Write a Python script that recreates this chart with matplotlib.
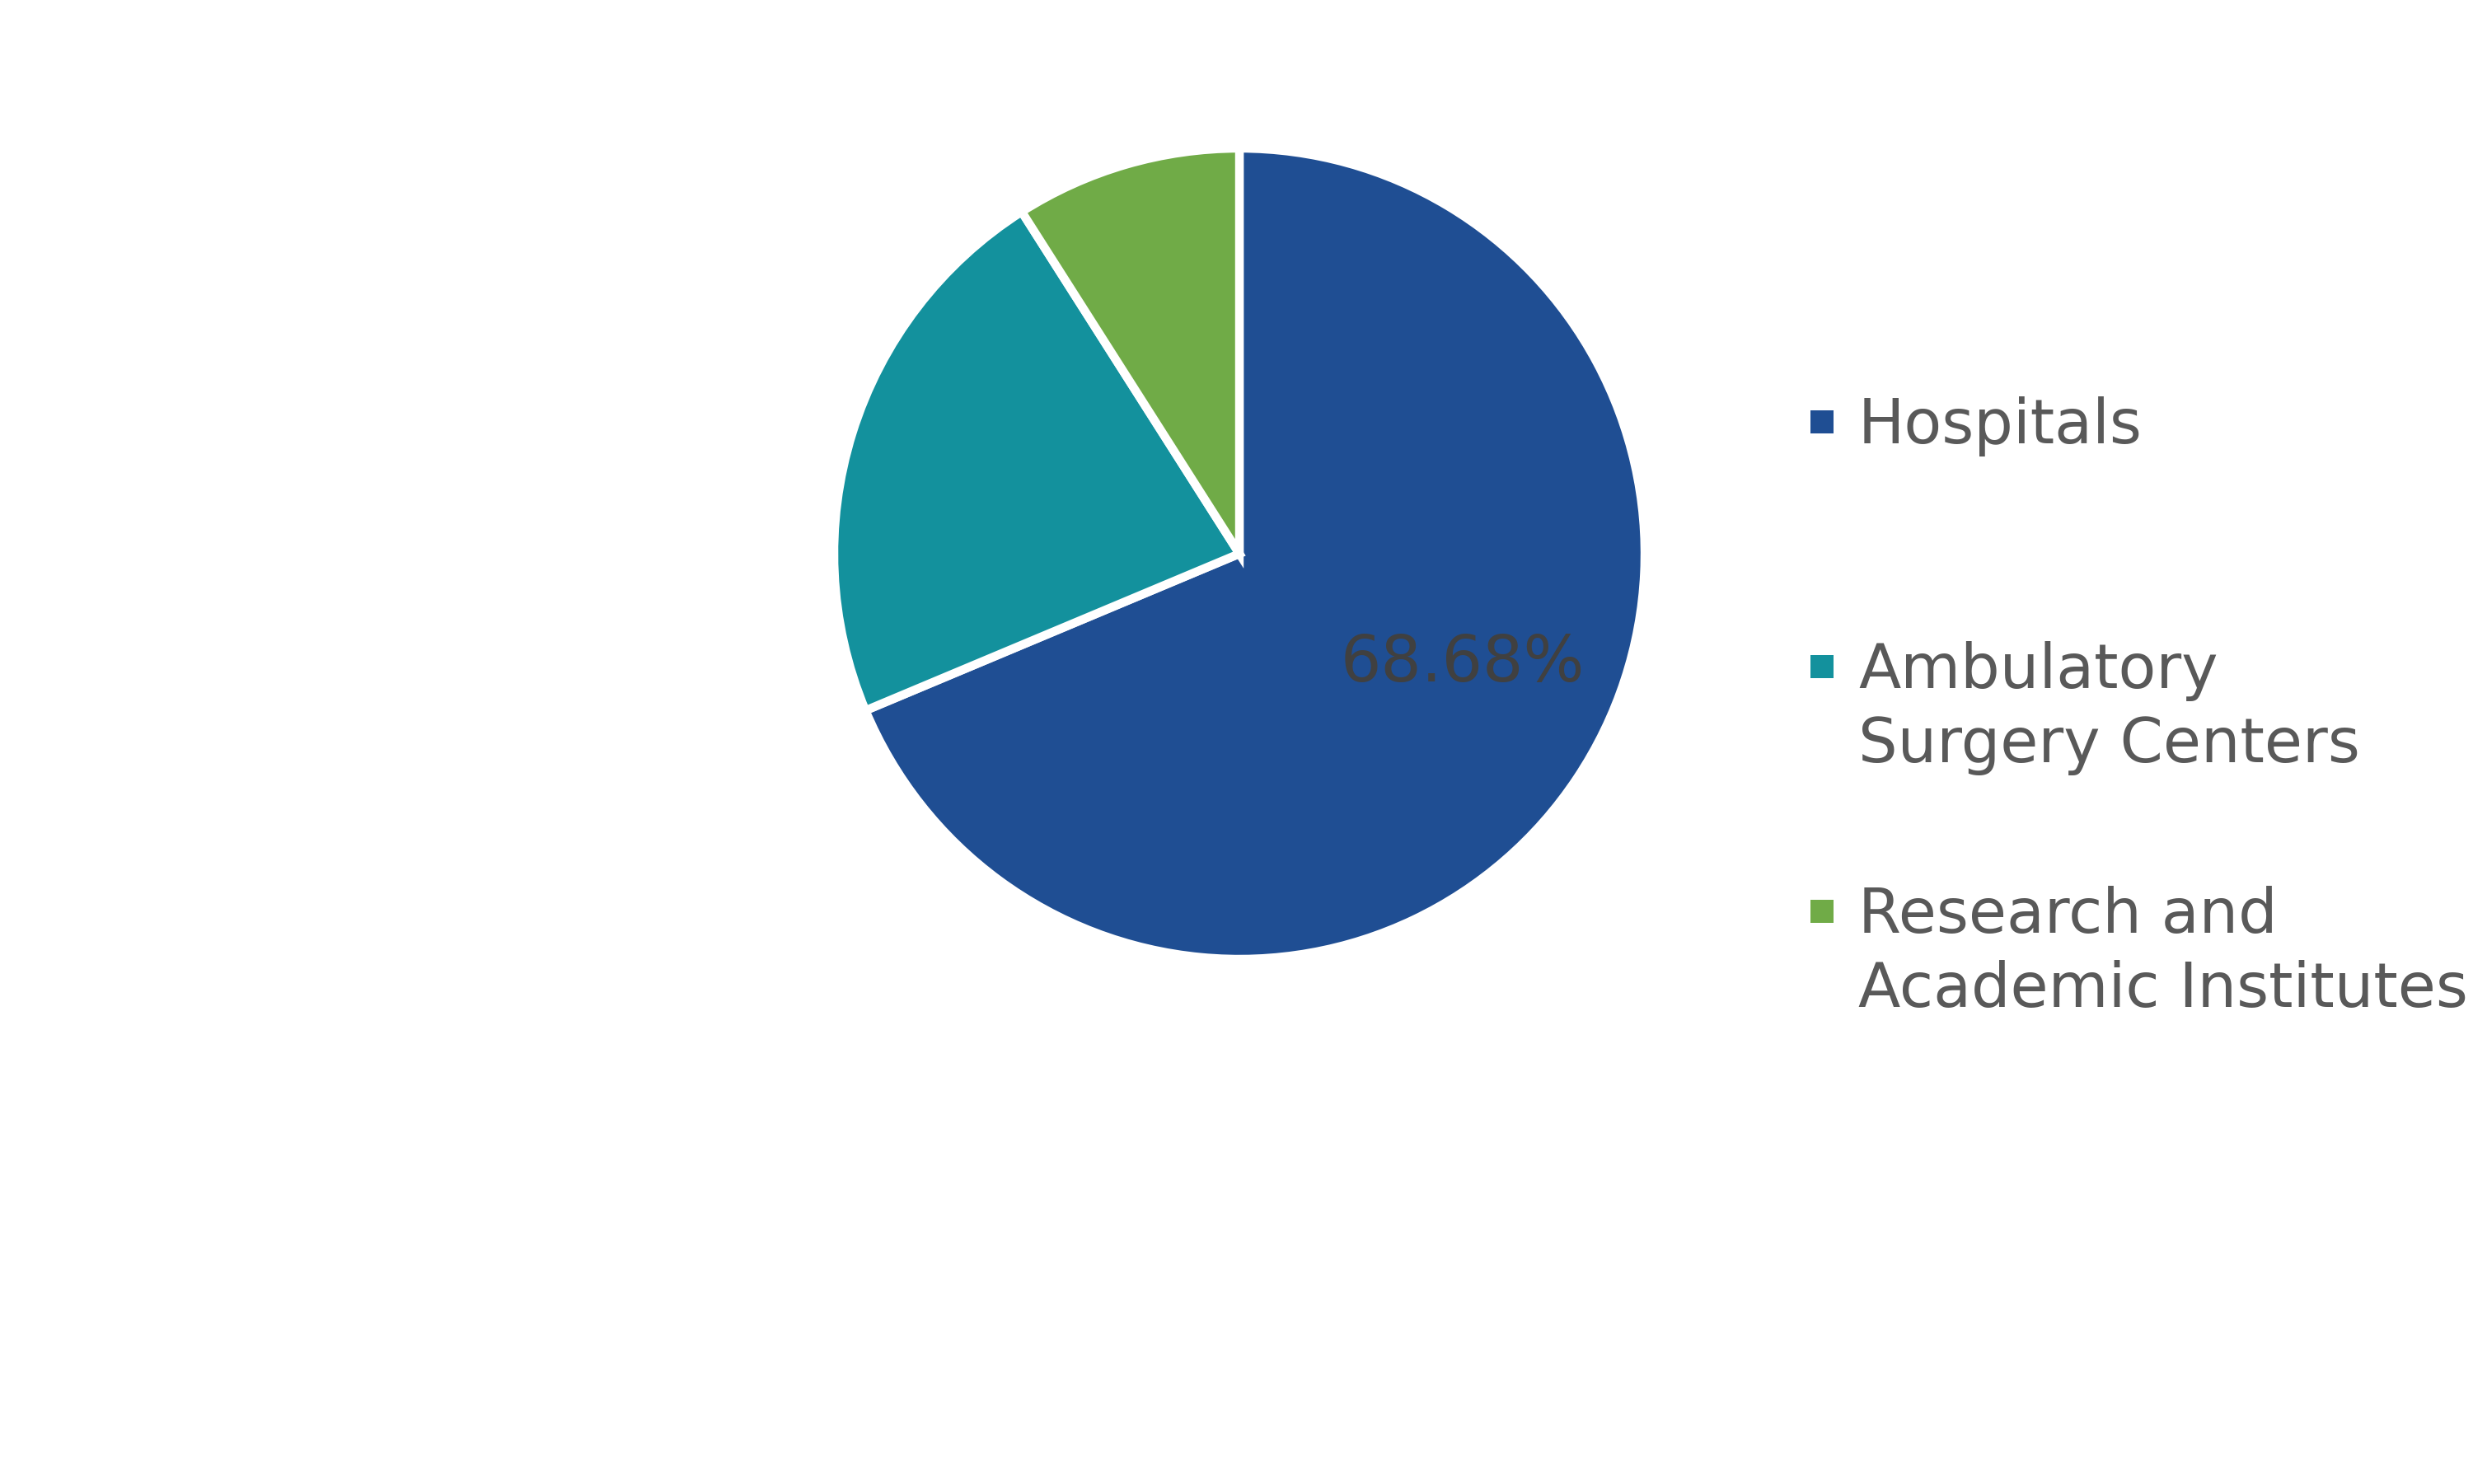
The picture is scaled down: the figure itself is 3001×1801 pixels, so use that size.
import matplotlib.pyplot as plt
from matplotlib.patches import Rectangle

# shares of end users (percent)
segmenty = ["Hospitals", "Ambulatory\nSurgery Centers", "Research and\nAcademic Institutes"]
podily = [68.68, 22.30, 9.02]
barvy = ["#1F4E93", "#13919D", "#70AB47"]

plt.rcParams['font.family'] = ['DejaVu Sans']

fig = plt.figure(figsize=(30.01, 18.01), dpi=100)
W, H = 3001, 1801

# pie axes: centre (1504, 672) px, radius 492 px
cx, cy, r = 1504, 672, 492
ax = fig.add_axes([(cx - r) / W, (H - cy - r) / H, 2 * r / W, 2 * r / H])


def jen_prvni(pct):
    return f"{pct:.2f}%" if pct > 50 else ""


wedges, texty, autotexty = ax.pie(
    podily, colors=barvy, startangle=90, counterclock=False,
    autopct=jen_prvni, pctdistance=0.61,
    wedgeprops=dict(edgecolor="white", linewidth=7.5),
    textprops=dict(fontsize=56, color="#404040"))
ax.set_xlim(-1, 1)
ax.set_ylim(-1, 1)
ax.set_aspect("equal")
autotexty[0].set_position((0.55, -0.27))
autotexty[0].set_va("center")
autotexty[0].set_ha("center")

# legend drawn by hand so the marker sits on the first text line
x_znacka, x_text = 2197, 2255
vel = 28
prvni_baseline = 538
krok = 297
radek = 90
for i, (seg, barva) in enumerate(zip(segmenty, barvy)):
    base = prvni_baseline + i * krok
    fig.patches.append(Rectangle((x_znacka / W, (H - base + 12) / H), vel / W, vel / H,
                                 transform=fig.transFigure, facecolor=barva,
                                 edgecolor="none"))
    for j, cast in enumerate(seg.split("\n")):
        fig.text(x_text / W, (H - base - j * radek) / H, cast, fontsize=54,
                 color="#595959", va="baseline", ha="left")

fig.savefig("out.png", dpi=100, facecolor="white")
